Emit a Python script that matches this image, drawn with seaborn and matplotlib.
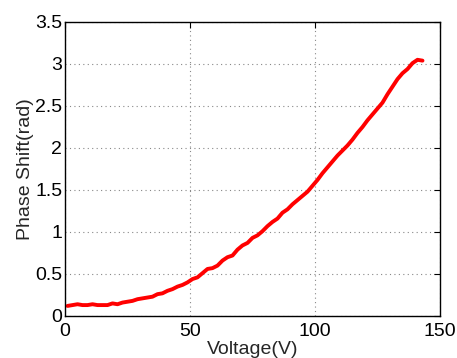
import numpy as np
import pandas as pd
import matplotlib
matplotlib.use("Agg")
import matplotlib.pyplot as plt
import seaborn as sns

# data
voltage = [1, 3, 5, 7, 9, 11, 13, 15, 17, 19, 21, 23, 25, 27, 29, 31, 33, 35,
           37, 39, 41, 43, 45, 47, 49, 51, 53, 55, 57, 59, 61, 63, 65, 67, 69, 71,
           73, 75, 77, 79, 81, 83, 85, 87, 89, 91, 93, 95, 97, 99, 101, 103, 105, 107,
           109, 111, 113, 115, 117, 119, 121, 123, 125, 127, 129, 131, 133, 135, 137,
           139, 141, 143]
phase = [0.12, 0.13, 0.14, 0.13, 0.13, 0.14, 0.13, 0.13, 0.13, 0.15, 0.14, 0.16,
         0.17, 0.18, 0.20, 0.21, 0.22, 0.23, 0.26, 0.27, 0.30, 0.32, 0.35, 0.37,
         0.40, 0.44, 0.46, 0.51, 0.56, 0.57, 0.60, 0.66, 0.70, 0.72, 0.79, 0.84,
         0.87, 0.93, 0.96, 1.01, 1.07, 1.12, 1.16, 1.23, 1.27, 1.33, 1.38, 1.43,
         1.48, 1.55, 1.62, 1.70, 1.77, 1.84, 1.91, 1.97, 2.03, 2.10, 2.18, 2.25,
         2.33, 2.40, 2.47, 2.54, 2.64, 2.73, 2.82, 2.89, 2.94, 3.01, 3.05, 3.04]
xticks = [0, 50, 100, 150]
yticks = [0, 0.5, 1, 1.5, 2, 2.5, 3, 3.5]
ytick_labels = ['0', '0.5', '1', '1.5', '2', '2.5', '3', '3.5']

df = pd.DataFrame({'Voltage': voltage, 'Phase': phase})

sns.set_style('white')
plt.rcParams['font.family'] = ['Liberation Sans', 'DejaVu Sans']

fig = plt.figure(figsize=(4.57, 3.58), dpi=100)
ax = fig.add_axes([65/457, 42/358, 375/457, 294/358])

sns.lineplot(data=df, x='Voltage', y='Phase', color='red', linewidth=2.8, ax=ax)

ax.set_xlim(0, 150)
ax.set_ylim(0, 3.5)
ax.set_xticks(xticks)
ax.set_xticklabels([str(t) for t in xticks])
ax.set_yticks(yticks)
ax.set_yticklabels(ytick_labels)
ax.grid(True, linestyle=(0, (1, 3)), color='#888888', linewidth=0.8)
ax.tick_params(direction='in', length=4, width=0.8, top=True, right=True,
               labelsize=14, colors='black')
ax.tick_params(axis='x', pad=5)
ax.tick_params(axis='y', pad=2)
for s in ax.spines.values():
    s.set_color('black')
    s.set_linewidth(1)
    s.set_visible(True)

ax.set_xlabel('Voltage(V)', fontsize=14, labelpad=1)
ax.set_ylabel('Phase Shift(rad)', fontsize=14, labelpad=1)

fig.savefig('out.png', dpi=100)
